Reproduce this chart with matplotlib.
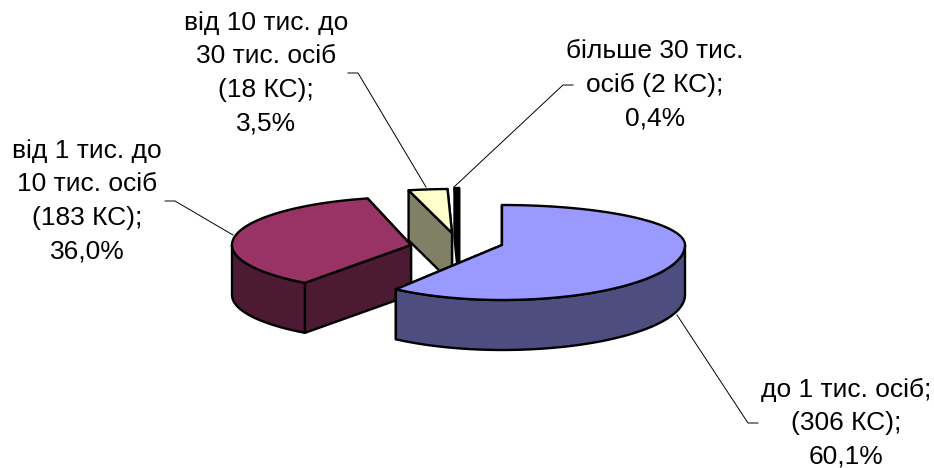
import numpy as np
import matplotlib
matplotlib.use('Agg')
import matplotlib.pyplot as plt
from matplotlib.patches import Polygon

plt.rcParams['font.family'] = ['Liberation Sans', 'DejaVu Sans']

# values
label_lines = [
    'до 1 тис. осіб;\n(306 КС);\n60,1%',
    'від 1 тис. до\n10 тис. осіб\n(183 КС);\n36,0%',
    'від 10 тис. до\n30 тис. осіб\n(18 КС);\n3,5%',
    'більше 30 тис.\nосіб (2 КС);\n0,4%',
]
shares = [60.1, 36.0, 3.5, 0.4]

top_colors = ['#9999FF', '#993366', '#FFFFCC', '#000000']
side_colors = ['#4D4D80', '#4D1A33', '#808066', '#000000']

# slice apex in pixels (exploded), and the squashed ellipse radii behind / in front
apex = [(502, 245), (411, 245), (452, 233), (459, 233)]
ry_back = [40, 48, 44, 45]
ry_front = [55, 47, 45, 45]
rx_right = 183
rx_left = 179
depth = 50
line_w = 1.7

label_pos = [(846, 423), (87, 201), (266, 73), (655, 85)]
leaders = [
    [(677, 315), (748, 423), (758, 423)],
    [(233, 235), (175, 201), (165, 201)],
    [(426, 187), (358, 73), (348, 73)],
    [(454, 187), (563, 85), (573, 85)],
]


def rim(i, angles):
    # angles clockwise from 12 o'clock, degrees
    a = np.radians(angles)
    c = np.cos(a)
    s = np.sin(a)
    x = apex[i][0] + np.where(s > 0, rx_right, rx_left) * s
    y = apex[i][1] - np.where(c > 0, ry_back[i], ry_front[i]) * c
    return x, y


def draw_slice(i, start, end):
    ax_ = apex[i]
    # the two cut faces, the far one first
    for ang in (end, start):
        x, y = rim(i, np.array([ang]))
        face = [(ax_[0], ax_[1]), (x[0], y[0]), (x[0], y[0] + depth), (ax_[0], ax_[1] + depth)]
        ax.add_patch(Polygon(face, fc=side_colors[i], ec='black', lw=line_w, joinstyle='round'))
    # outer wall, only the part facing us
    w0, w1 = max(start, 90), min(end, 270)
    if w1 > w0:
        ang = np.linspace(w0, w1, 80)
        x, y = rim(i, ang)
        wall = np.r_[np.c_[x, y], np.c_[x, y + depth][::-1]]
        ax.add_patch(Polygon(wall, fc=side_colors[i], ec='black', lw=line_w, joinstyle='round'))
    # top
    ang = np.linspace(start, end, 120)
    x, y = rim(i, ang)
    top = np.r_[[ax_], np.c_[x, y]]
    ax.add_patch(Polygon(top, fc=top_colors[i], ec='black', lw=line_w, joinstyle='round'))


fig = plt.figure(figsize=(9.34, 4.68), dpi=100)
ax = fig.add_axes([0, 0, 1, 1])
ax.set_xlim(0, 934)
ax.set_ylim(468, 0)
ax.axis('off')

edges = np.r_[0, np.cumsum(shares)] * 3.6
for i in [2, 3, 1, 0]:
    draw_slice(i, edges[i], edges[i + 1])

for pts in leaders:
    xs, ys = zip(*pts)
    ax.plot(xs, ys, color='black', lw=0.7, zorder=1)

for (x, y), txt in zip(label_pos, label_lines):
    ax.text(x, y, txt, ha='center', va='center', fontsize=19, linespacing=1.5, color='black')

fig.savefig('out.png', dpi=100)
